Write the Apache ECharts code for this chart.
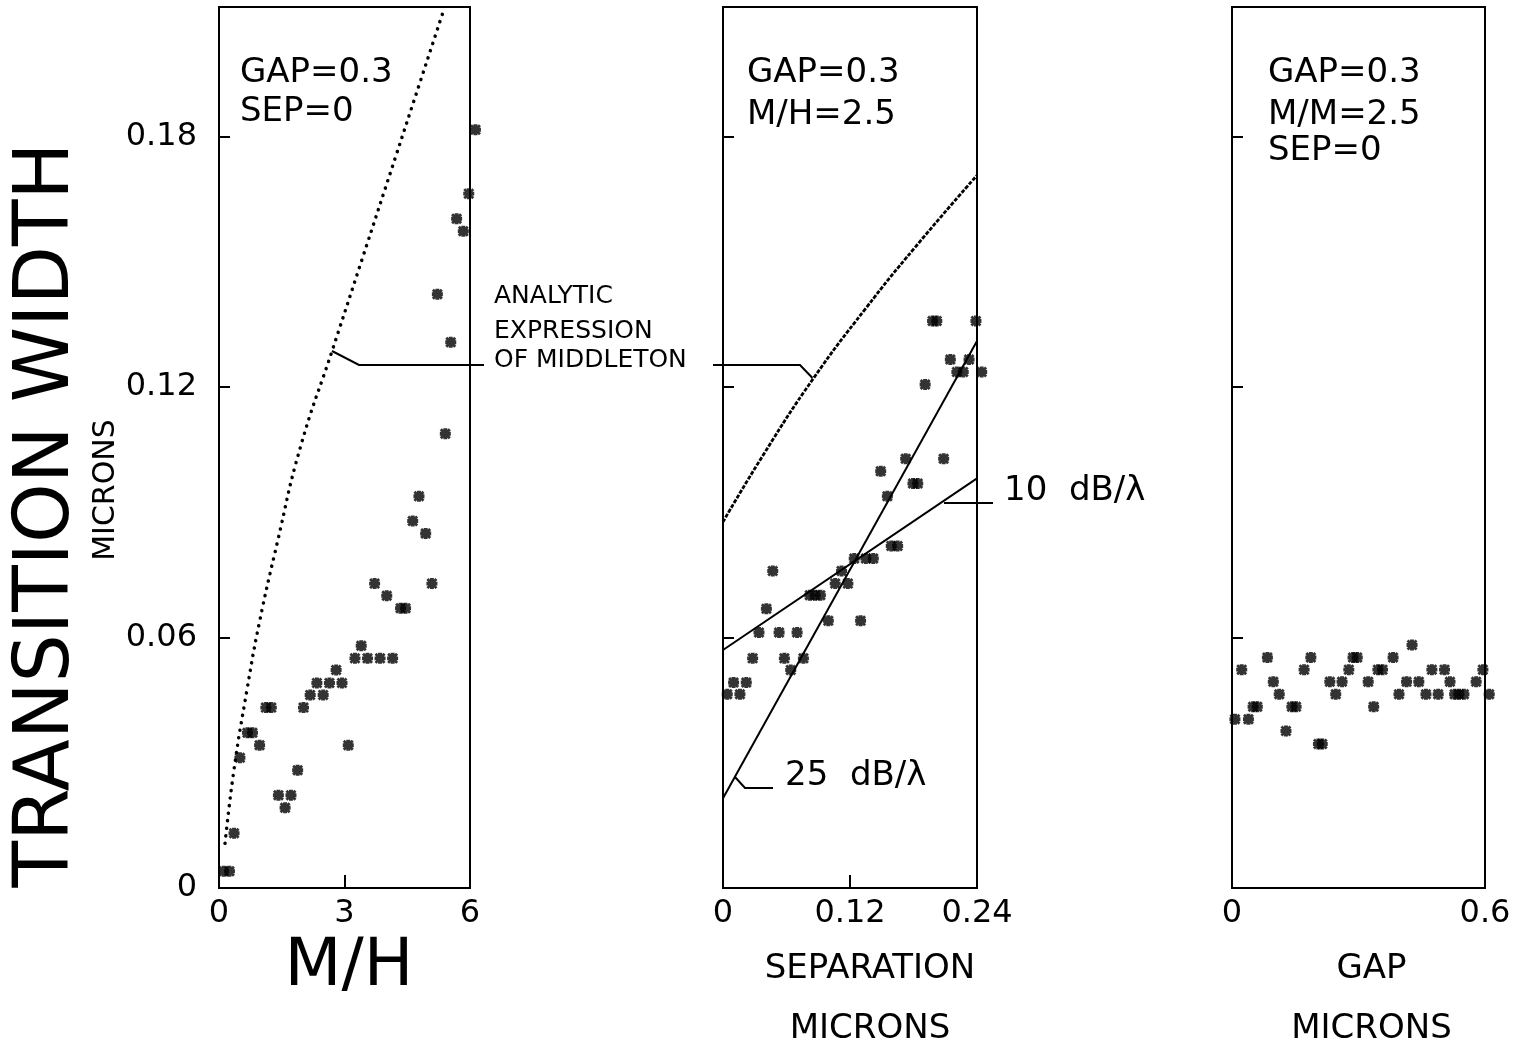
<!DOCTYPE html>
<html>
<head>
<meta charset="utf-8">
<script src="https://cdn.jsdelivr.net/npm/echarts@6/dist/echarts.min.js"></script>
<style>
html,body{margin:0;padding:0;background:#fff;}
#chart{width:1528px;height:1047px;}
</style>
</head>
<body>
<div id="chart"></div>
<script>
// ---- tick values / labels ----
const yTicks = [0, 0.06, 0.12, 0.18];
const x1Ticks = [0, 3, 6];
const x2Ticks = [0, 0.12, 0.24];
const x3Ticks = [0, 0.6];

// ---- panel 1: transition width vs M/H (GAP=0.3, SEP=0) ----
const p1Points = [
  [0.11,0.004],[0.25,0.004],[0.36,0.0131],[0.50,0.0312],[0.68,0.0372],[0.80,0.0372],
  [0.97,0.0342],[1.12,0.0432],[1.25,0.0432],[1.42,0.0222],[1.72,0.0222],[1.58,0.0192],
  [1.88,0.0282],[2.02,0.0432],[2.18,0.0462],[2.49,0.0462],[2.34,0.0491],[2.64,0.0491],
  [2.94,0.0491],[2.80,0.0522],[3.09,0.0342],[3.25,0.055],[3.40,0.058],[3.55,0.055],
  [3.85,0.055],[4.15,0.055],[3.72,0.0729],[4.01,0.070],[4.34,0.067],[4.46,0.067],
  [5.09,0.0729],[4.63,0.0879],[4.78,0.0938],[4.94,0.0849],[5.41,0.1088],[5.22,0.1422],
  [5.54,0.1307],[5.68,0.1603],[5.84,0.1573],[5.97,0.1663],[6.13,0.1816]
];
const middleton1 = [
  [0.144,0.0107],[0.36,0.0285],[0.665,0.0472],[0.96,0.0633],[1.40,0.0830],[1.944,0.1055],
  [2.722,0.1292],[3.434,0.1510],[4.09,0.1711],[4.78,0.1922],[5.376,0.2104]
];

// ---- panel 2: transition width vs separation (GAP=0.3, M/H=2.5) ----
const p2Points = [
  [0.004,0.0464],[0.016,0.0464],[0.010,0.0492],[0.022,0.0492],[0.028,0.055],[0.034,0.0612],
  [0.041,0.0669],[0.047,0.0759],[0.053,0.0612],[0.058,0.055],[0.064,0.0522],[0.070,0.0612],
  [0.076,0.055],[0.082,0.0701],[0.087,0.0701],[0.092,0.0701],[0.0995,0.064],[0.106,0.0729],
  [0.112,0.0759],[0.118,0.0729],[0.124,0.0789],[0.130,0.064],[0.135,0.0789],[0.142,0.0789],
  [0.159,0.0819],[0.165,0.0819],[0.1553,0.0938],[0.149,0.0998],[0.1726,0.1028],[0.1795,0.0969],
  [0.184,0.0969],[0.2085,0.1028],[0.191,0.1206],[0.2148,0.1266],[0.221,0.1236],[0.227,0.1236],
  [0.2325,0.1266],[0.2444,0.1236],[0.198,0.1358],[0.202,0.1358],[0.239,0.1358]
];
const middleton2 = [
  [0,0.0877],[0.0397,0.1044],[0.0853,0.1220],[0.1345,0.1387],[0.1817,0.1535],[0.2397,0.1706]
];
const fit10 = [[0,0.0570],[0.24,0.0981]];
const fit25 = [[0,0.0215],[0.24,0.1310]];

// ---- panel 3: transition width vs gap (M/M=2.5, SEP=0) ----
const p3Points = [
  [0.007,0.0404],[0.039,0.0404],[0.023,0.0523],[0.050,0.0434],[0.060,0.0434],[0.084,0.0552],
  [0.098,0.0494],[0.112,0.0464],[0.128,0.0376],[0.142,0.0434],[0.152,0.0434],[0.171,0.0523],
  [0.187,0.0552],[0.205,0.0345],[0.214,0.0345],[0.232,0.0494],[0.246,0.0464],[0.261,0.0494],
  [0.277,0.0523],[0.287,0.0552],[0.297,0.0552],[0.323,0.0494],[0.336,0.0434],[0.346,0.0523],
  [0.357,0.0523],[0.382,0.0552],[0.396,0.0464],[0.414,0.0494],[0.427,0.0582],[0.443,0.0494],
  [0.460,0.0464],[0.474,0.0523],[0.489,0.0464],[0.504,0.0523],[0.517,0.0494],[0.528,0.0464],
  [0.538,0.0464],[0.550,0.0464],[0.579,0.0494],[0.595,0.0523],[0.610,0.0464]
];

const FONT = '"DejaVu Sans", sans-serif';
const BLACK = '#000';
const STAR = 'path://M3.2 0H6.8V10H3.2Z M0 3.2H10V6.8H0Z M0 1.8L1.8 0L10 8.2L8.2 10Z M8.2 0L10 1.8L1.8 10L0 8.2Z';

function gridOf(left, width) {
  return {left: left, top: 7, width: width, height: 881, show: true,
          containLabel: false, outerBoundsMode: 'none',
          borderColor: BLACK, borderWidth: 2, backgroundColor: 'transparent'};
}
function xAxisOf(i, max, labels, mid, name, nameStyle, gap) {
  return {
    type: 'value', gridIndex: i, min: 0, max: max,
    axisLine: {show: true, lineStyle: {color: BLACK, width: 2}},
    axisTick: {show: true, inside: true, length: 13, customValues: mid,
               lineStyle: {color: BLACK, width: 2}},
    axisLabel: {show: true, customValues: labels, color: BLACK, fontSize: 32,
                fontFamily: FONT, margin: 10, formatter: v => String(v)},
    splitLine: {show: false},
    name: name, nameLocation: 'middle', nameGap: gap,
    nameTextStyle: Object.assign({color: BLACK, fontFamily: FONT}, nameStyle)
  };
}
function yAxisOf(i, showLabels) {
  return {
    type: 'value', gridIndex: i, min: 0, max: 0.211,
    axisLine: {show: true, lineStyle: {color: BLACK, width: 2}},
    axisTick: {show: true, inside: true, length: 11, customValues: [0.06, 0.12, 0.18],
               lineStyle: {color: BLACK, width: 2}},
    axisLabel: {show: showLabels, customValues: yTicks, color: BLACK, fontSize: 32,
                fontFamily: FONT, margin: 22, formatter: v => String(v)},
    splitLine: {show: false}
  };
}
function scatterOf(i, data) {
  return {type: 'scatter', xAxisIndex: i, yAxisIndex: i, data: data, symbol: STAR,
          symbolSize: 11, itemStyle: {color: BLACK}, clip: false, silent: true};
}
function lineOf(i, data, style, smooth) {
  return {type: 'line', xAxisIndex: i, yAxisIndex: i, data: data, symbol: 'none',
          smooth: smooth, lineStyle: Object.assign({color: BLACK}, style), silent: true};
}
function txt(x, y, text, size, extra) {
  return Object.assign({type: 'text', x: x, y: y, silent: true,
    style: {text: text, font: size + 'px ' + FONT, fill: BLACK, align: 'left', verticalAlign: 'middle'}}, extra || {});
}
function poly(points) {
  return {type: 'polyline', silent: true, shape: {points: points},
          style: {stroke: BLACK, lineWidth: 2, fill: null}};
}

const chart = echarts.init(document.getElementById('chart'), null, {renderer: 'canvas'});
chart.setOption({
  animation: false,
  backgroundColor: '#fff',
  grid: [gridOf(219, 251), gridOf(723, 254), gridOf(1232, 253)],
  xAxis: [
    xAxisOf(0, 6, x1Ticks, [3], 'M/H', {fontSize: 66, padding: [0, 0, 0, 9]}, 25),
    xAxisOf(1, 0.24, x2Ticks, [0.12], 'SEPARATION\nMICRONS', {fontSize: 34, lineHeight: 60, padding: [0, 0, 0, 40]}, 51),
    xAxisOf(2, 0.6, x3Ticks, [], 'GAP\nMICRONS', {fontSize: 34, lineHeight: 60, padding: [0, 0, 0, 26]}, 51)
  ],
  yAxis: [yAxisOf(0, true), yAxisOf(1, false), yAxisOf(2, false)],
  series: [
    lineOf(0, middleton1, {width: 3.5, type: [0.1, 7.5], cap: 'round'}, true),
    scatterOf(0, p1Points),
    lineOf(1, middleton2, {width: 2.8, type: [4, 1.5]}, true),
    lineOf(1, fit10, {width: 2}, false),
    lineOf(1, fit25, {width: 2}, false),
    scatterOf(1, p2Points),
    scatterOf(2, p3Points)
  ],
  graphic: [
    txt(48, 515, 'TRANSITION WIDTH', 76, {rotation: Math.PI / 2,
      style: {text: 'TRANSITION WIDTH', font: '76px ' + FONT, fill: BLACK, align: 'center', verticalAlign: 'middle'}}),
    txt(106, 490, 'MICRONS', 30, {rotation: Math.PI / 2,
      style: {text: 'MICRONS', font: '30px ' + FONT, fill: BLACK, align: 'center', verticalAlign: 'middle'}}),
    txt(240, 73, 'GAP=0.3', 34),
    txt(240, 112, 'SEP=0', 34),
    txt(747, 73, 'GAP=0.3', 34),
    txt(747, 115, 'M/H=2.5', 34),
    txt(1268, 73, 'GAP=0.3', 34),
    txt(1268, 115, 'M/M=2.5', 34),
    txt(1268, 151, 'SEP=0', 34),
    txt(494, 296, 'ANALYTIC', 25),
    txt(494, 331, 'EXPRESSION', 25),
    txt(494, 360, 'OF MIDDLETON', 25),
    poly([[332, 351], [359, 365], [484, 365]]),
    poly([[713, 365], [800, 365], [812.5, 378]]),
    poly([[944, 503], [993, 503]]),
    txt(1004, 491, '10  dB/\u03bb', 34),
    poly([[735, 777], [745, 788], [773, 788]]),
    txt(785, 776, '25  dB/\u03bb', 34)
  ]
});
</script>
</body>
</html>
